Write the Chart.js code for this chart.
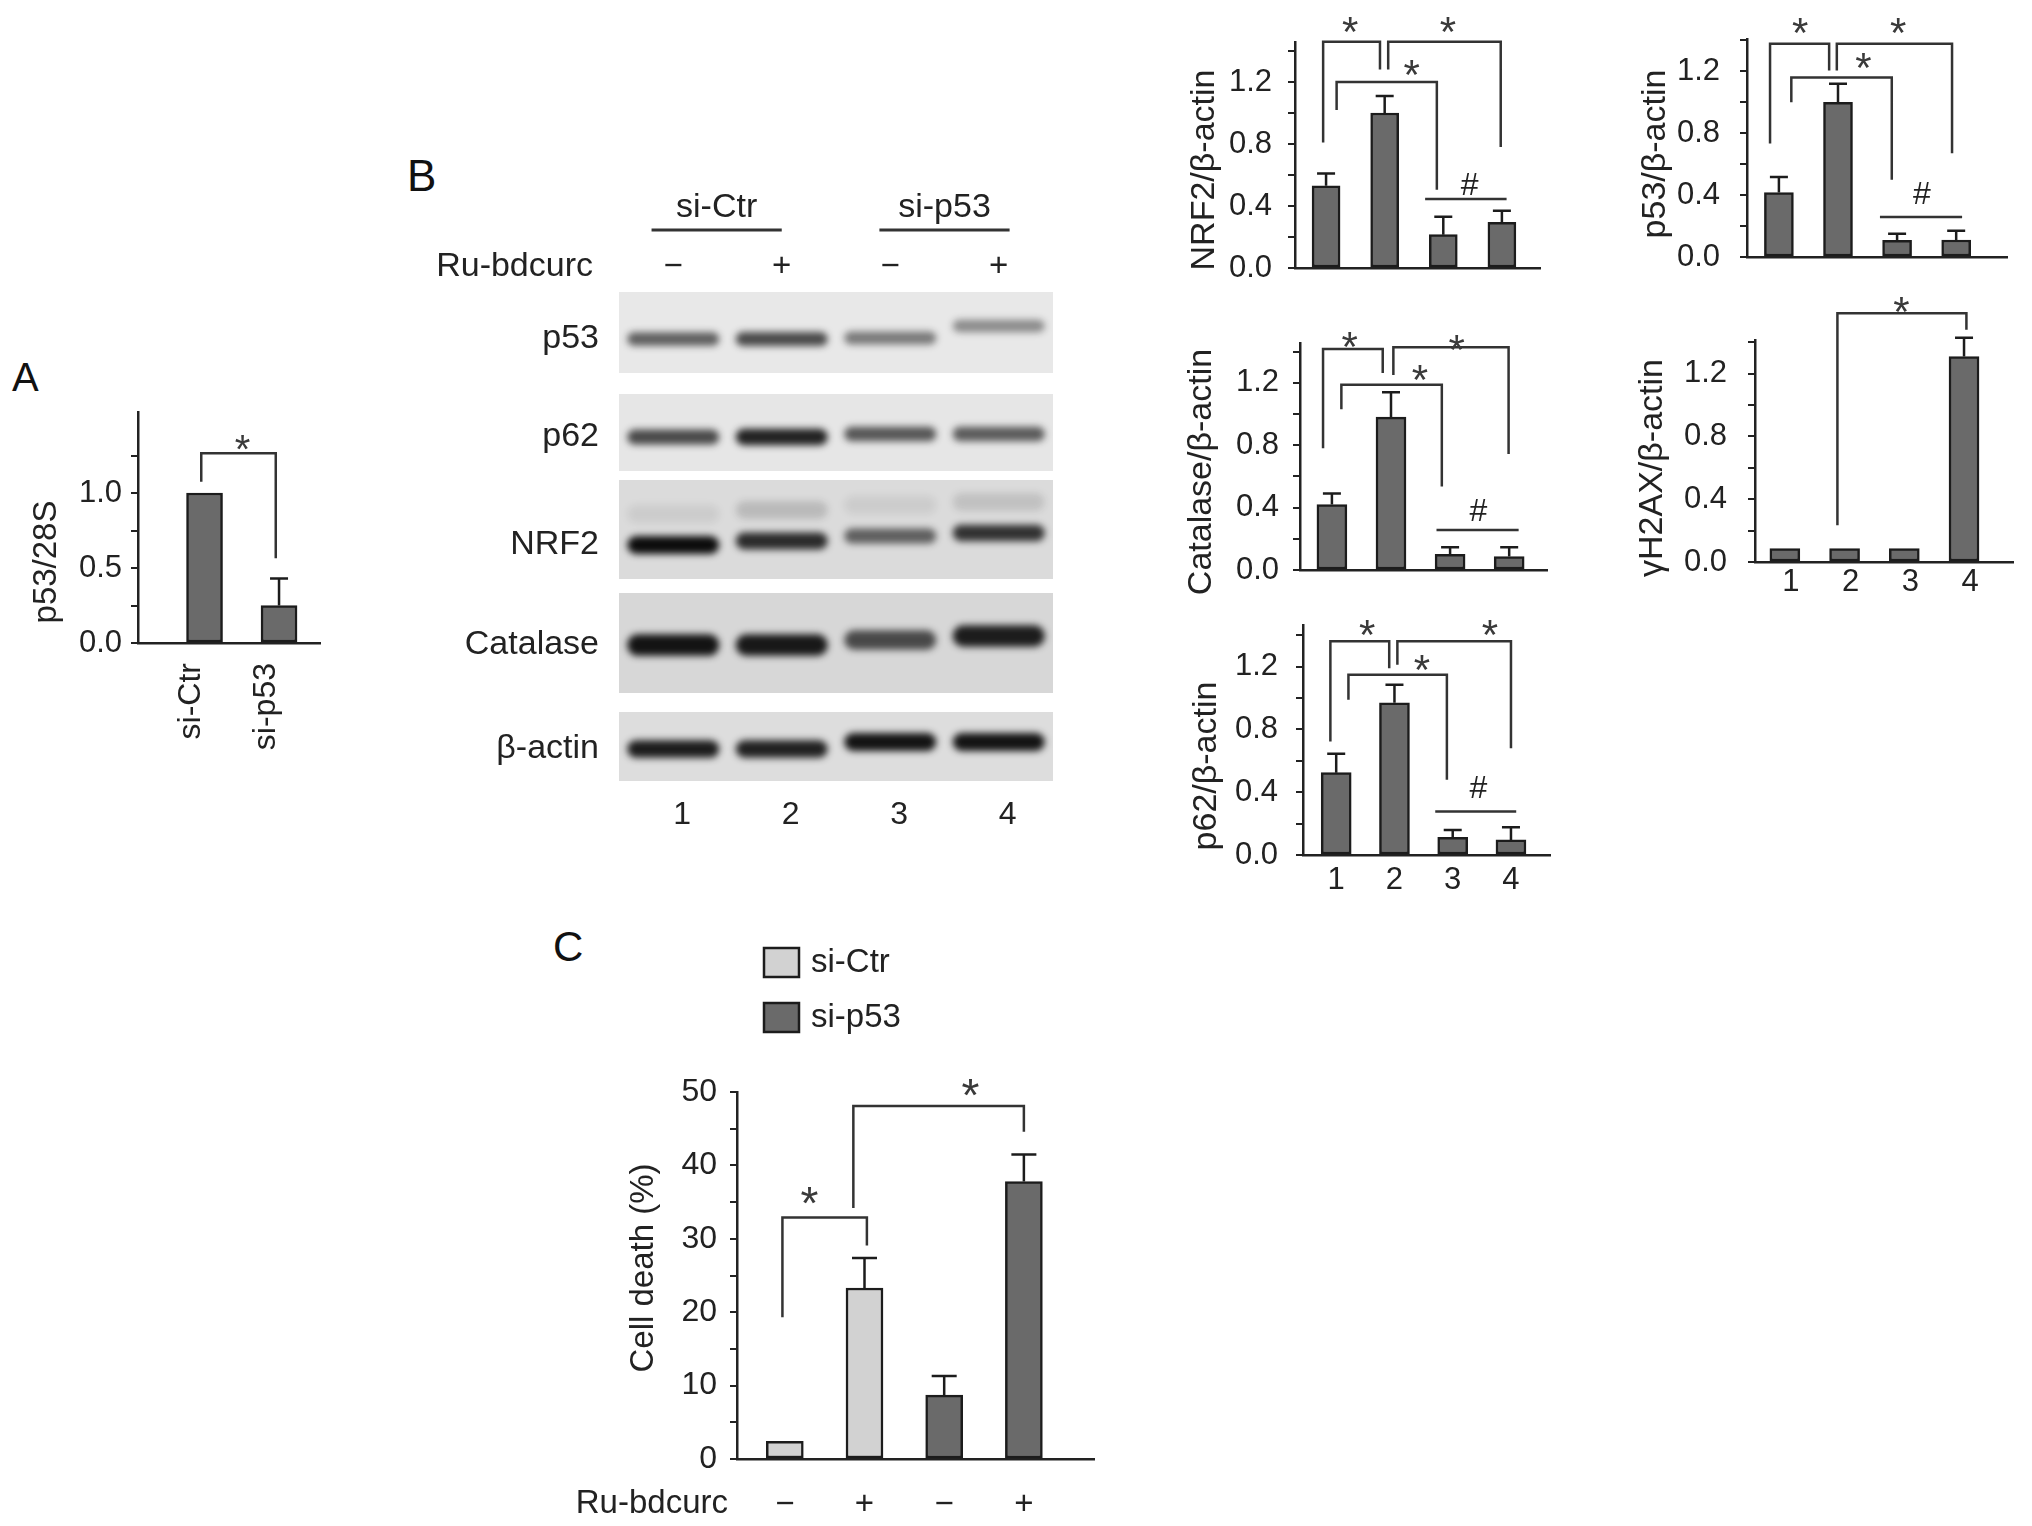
<!DOCTYPE html>
<html><head><meta charset="utf-8">
<script src="https://cdn.jsdelivr.net/npm/chart.js@4.4.1/dist/chart.umd.min.js"></script>
<style>
html,body{margin:0;padding:0;background:#fff;}
#fig{position:relative;width:2032px;height:1526px;overflow:hidden;background:#fff;font-family:"Liberation Sans",Arial,sans-serif;color:#111;}
#fig canvas{position:absolute;}
.letter{position:absolute;line-height:1;color:#111;font-family:"Liberation Sans",Arial,sans-serif;}
</style></head>
<body><div id="fig">
<div class="letter" style="left:12px;top:357px;font-size:40px;">A</div>
<div class="letter" style="left:407px;top:154px;font-size:44px;">B</div>
<div class="letter" style="left:553px;top:926px;font-size:42px;">C</div>
</div>
<script>
// ---------------- DATA ----------------
const laneNumbers = [1, 2, 3, 4];
const laneTickLabels = ['1', '2', '3', '4'];
const treatmentSigns = ['\u2212', '+', '\u2212', '+'];
const groupLabels = ['si-Ctr', 'si-p53'];

// Panel A
const aCategories = ['si-Ctr', 'si-p53'];
const aValues = [1.00, 0.25];
const aErrors = [0, 0.18];

// Panel B quantifications (lanes 1-4)
const nrf2Values = [0.53, 1.00, 0.215, 0.295];
const nrf2Errors = [0.08, 0.11, 0.115, 0.075];
const p53Values = [0.417, 1.00, 0.108, 0.11];
const p53Errors = [0.10, 0.12, 0.042, 0.06];
const catalaseValues = [0.42, 0.98, 0.10, 0.086];
const catalaseErrors = [0.07, 0.16, 0.046, 0.06];
const h2axValues = [0.085, 0.085, 0.085, 1.31];
const h2axErrors = [0, 0, 0, 0.12];
const p62Values = [0.525, 0.97, 0.113, 0.096];
const p62Errors = [0.12, 0.115, 0.047, 0.081];

// Panel C (cell death %)
const cellDeathCtr = [2.4, 23.3];
const cellDeathCtrErr = [0, 4.1];
const cellDeathP53 = [8.7, 37.8];
const cellDeathP53Err = [2.6, 3.7];

// Significance brackets: [xLeft, xRight, yLeftEnd, yRightEnd, yTop, starX, starY]
const aBrackets = [[0.956, 1.956, 1.075, 0.565, 1.265, 1.51, 1.356]];
const nrf2Brackets = [
  [0.95, 1.92, 0.81, 1.28, 1.46, 1.41, 1.59],
  [2.06, 3.98, 1.28, 0.78, 1.46, 3.08, 1.59],
  [1.18, 2.89, 1.02, 0.505, 1.20, 2.46, 1.31]
];
const p53Brackets = [
  [0.85, 1.85, 0.734, 1.206, 1.378, 1.36, 1.517],
  [1.98, 3.93, 1.206, 0.67, 1.378, 3.02, 1.517],
  [1.21, 2.91, 1.00, 0.50, 1.16, 2.43, 1.29]
];
const catalaseBrackets = [
  [0.85, 1.86, 0.78, 1.262, 1.416, 1.30, 1.497],
  [2.04, 3.99, 1.25, 0.744, 1.427, 3.11, 1.476],
  [1.16, 2.86, 1.03, 0.535, 1.187, 2.49, 1.283]
];
const p62Brackets = [
  [0.90, 1.91, 0.723, 1.19, 1.362, 1.53, 1.468],
  [2.05, 4.00, 1.213, 0.68, 1.362, 3.64, 1.468],
  [1.21, 2.90, 0.99, 0.479, 1.149, 2.47, 1.245]
];
const h2axBrackets = [[1.88, 4.04, 0.234, 1.48, 1.585, 2.95, 1.66]];
const cBrackets = [
  [0.97, 2.03, 19.3, 29.1, 32.9, 1.31, 36.4],
  [1.86, 4.00, 34.2, 44.6, 48.1, 3.33, 51.1]
];
// "#" lines: [xLeft, xRight, y, labelX, labelY]
const nrf2Hash = [2.69, 4.08, 0.445, 3.45, 0.548];
const p53Hash = [2.71, 4.10, 0.258, 3.42, 0.416];
const catalaseHash = [2.77, 4.16, 0.257, 3.48, 0.385];
const p62Hash = [2.70, 4.09, 0.277, 3.44, 0.436];

// Western blot (band intensities per lane)
const blotRowLabels = ['p53', 'p62', 'NRF2', 'Catalase', '\u03b2-actin'];
const p53Band = [0.62, 0.72, 0.50, 0.42];
const p62Band = [0.72, 0.90, 0.66, 0.64];
const nrf2Band = [1.00, 0.85, 0.60, 0.82];
const nrf2UpperBand = [0.07, 0.16, 0.07, 0.13];
const catalaseBand = [0.97, 0.94, 0.70, 0.92];
const actinBand = [0.92, 0.90, 0.97, 0.97];

// ---------------- LAYOUT / STYLE ----------------
const FONT = '"Liberation Sans", Arial, sans-serif';
Chart.defaults.font.family = FONT;
Chart.defaults.color = '#222';
const DARK = '#6a6a6a', LIGHT = '#d2d2d2', EDGE = '#1c1c1c', INK = '#222';
const fig = document.getElementById('fig');

const BLOT = {
  canvas: {l: 390, t: 140, w: 690, h: 710},
  pad: {left: 229, right: 27, top: 152, bottom: 69},
  yMax: 489,
  panels: [[0, 81], [102, 179], [188, 287], [301, 401], [420, 489]],
  bandY: [47, 145, 253, 353, 457],
  upperY: 222,
  bandDy: [[0, 0, -1, -13], [0, 0, -3, -3], [0, -4, -9, -12], [0, 0, -5, -9], [0, 0, -7, -7]],
  bandH: [16, 17, 18, 22, 18],
  bandW: 92,
  panelColor: ['#e8e8e8', '#e6e6e6', '#dbdbdb', '#d7d7d7', '#dddddd']
};

function makeCanvas(l, t, w, h) {
  const c = document.createElement('canvas');
  c.width = w; c.height = h;
  c.style.left = l + 'px'; c.style.top = t + 'px';
  c.style.width = w + 'px'; c.style.height = h + 'px';
  fig.appendChild(c);
  return c;
}

function glyph(ctx, ch, cx, cy, size, ratio) {
  ctx.font = size + 'px ' + FONT;
  ctx.textAlign = 'center';
  ctx.textBaseline = 'alphabetic';
  ctx.fillText(ch, cx, cy + ratio * size);
}

const errorBarsPlugin = {
  id: 'errorBars',
  afterDatasetsDraw(chart, args, opts) {
    const ctx = chart.ctx, y = chart.scales.y;
    ctx.save();
    ctx.strokeStyle = EDGE; ctx.lineWidth = 2.5;
    chart.data.datasets.forEach((ds, di) => {
      const meta = chart.getDatasetMeta(di);
      (ds.errors || []).forEach((e, i) => {
        if (!e) return;
        const el = meta.data[i];
        const yt = y.getPixelForValue(ds.data[i].y + e);
        const half = opts.capWidth / 2;
        ctx.beginPath();
        ctx.moveTo(el.x, el.y); ctx.lineTo(el.x, yt);
        ctx.moveTo(el.x - half, yt); ctx.lineTo(el.x + half, yt);
        ctx.stroke();
      });
    });
    ctx.restore();
  }
};

const sigPlugin = {
  id: 'sig',
  afterDraw(chart, args, opts) {
    const ctx = chart.ctx, x = chart.scales.x, y = chart.scales.y;
    ctx.save();
    ctx.strokeStyle = '#333'; ctx.lineWidth = 2.5; ctx.fillStyle = '#3a3a3a';
    (opts.brackets || []).forEach(b => {
      const [x1, x2, yl, yr, yt, sx, sy] = b;
      const p1 = x.getPixelForValue(x1), p2 = x.getPixelForValue(x2);
      ctx.beginPath();
      ctx.moveTo(p1, y.getPixelForValue(yl));
      ctx.lineTo(p1, y.getPixelForValue(yt));
      ctx.lineTo(p2, y.getPixelForValue(yt));
      ctx.lineTo(p2, y.getPixelForValue(yr));
      ctx.stroke();
      glyph(ctx, '*', x.getPixelForValue(sx), y.getPixelForValue(sy), opts.starSize, 0.58);
    });
    if (opts.hash) {
      const [x1, x2, yv, lx, ly] = opts.hash;
      ctx.beginPath();
      ctx.moveTo(x.getPixelForValue(x1), y.getPixelForValue(yv));
      ctx.lineTo(x.getPixelForValue(x2), y.getPixelForValue(yv));
      ctx.stroke();
      ctx.fillStyle = '#222';
      glyph(ctx, '#', x.getPixelForValue(lx), y.getPixelForValue(ly), 32, 0.36);
    }
    // rotated y-axis title
    if (opts.yTitle) {
      const t = opts.yTitle;
      ctx.save();
      ctx.translate(t.x, t.y);
      ctx.rotate(-Math.PI / 2);
      ctx.fillStyle = INK;
      ctx.font = t.size + 'px ' + FONT;
      ctx.textAlign = 'center'; ctx.textBaseline = 'middle';
      ctx.fillText(t.text, 0, 0);
      ctx.restore();
    }
    if (opts.extra) opts.extra(chart);
    ctx.restore();
  }
};

function laneDataset(xs, values, errors, color, thickness) {
  return {
    data: values.map((v, i) => ({x: xs[i], y: v})),
    errors: errors,
    backgroundColor: color, borderColor: EDGE, borderWidth: 2.5,
    borderSkipped: false, barThickness: thickness
  };
}

function barChart(cfg) {
  const {area, ML, MR, MT, MB} = cfg;
  const W = area.r - area.l + ML + MR, H = area.b - area.t + MT + MB;
  const cL = area.l - ML, cT = area.t - MT;
  const canvas = makeCanvas(cL, cT, W, H);
  const tSize = cfg.titleSize || 34;
  const tickTop = cfg.yTickTop === undefined ? cfg.yMax : cfg.yTickTop;
  return new Chart(canvas, {
    type: 'bar',
    data: {datasets: cfg.datasets},
    options: {
      responsive: false, maintainAspectRatio: false, animation: false, devicePixelRatio: 1,
      layout: {padding: {left: 0, top: MT, right: MR, bottom: 0}},
      datasets: {bar: {grouped: false}},
      plugins: {
        legend: {display: false}, tooltip: {enabled: false},
        errorBars: {capWidth: cfg.capWidth || 18},
        sig: {
          brackets: cfg.brackets || [], hash: cfg.hash || null, starSize: cfg.starSize || 42, extra: cfg.extra || null,
          yTitle: {text: cfg.title, size: tSize, x: cfg.titleX - cL, y: cfg.titleY - cT}
        }
      },
      scales: {
        x: {
          type: 'linear', min: cfg.xMin, max: cfg.xMax, offset: false,
          afterFit: s => { s.height = MB; },
          afterBuildTicks: s => { s.ticks = cfg.xTicks.map(v => ({value: v})); },
          grid: {display: false, drawTicks: false},
          border: {display: true, width: 2.5, color: INK},
          ticks: {
            display: !!cfg.xLabel, autoSkip: false, padding: cfg.xPad || 0,
            labelOffset: cfg.xLabelOffset || 0,
            minRotation: cfg.xRot || 0, maxRotation: cfg.xRot || 0,
            font: {family: FONT, size: cfg.xFontSize || 31}, color: INK,
            callback: v => (cfg.xLabel ? cfg.xLabel(v) : '')
          }
        },
        y: {
          type: 'linear', min: 0, max: cfg.yMax,
          afterFit: s => { s.width = ML; },
          afterBuildTicks: s => {
            const t = [];
            for (let k = 0; k * cfg.yStep <= tickTop + 1e-9; k++) t.push({value: +(k * cfg.yStep).toFixed(4)});
            s.ticks = t;
          },
          grid: {display: true, drawOnChartArea: false, drawTicks: true, tickLength: 7, tickWidth: 2, tickColor: INK, lineWidth: 2, color: INK},
          border: {display: true, width: 2.5, color: INK},
          ticks: {
            padding: cfg.yPad, autoSkip: false, color: INK,
            font: {family: FONT, size: cfg.yFontSize || 31},
            callback: v => {
              const r = v / cfg.yLabelStep;
              return Math.abs(r - Math.round(r)) < 1e-6 ? v.toFixed(cfg.yDec === undefined ? 1 : cfg.yDec) : '';
            }
          },
          title: {display: false}
        }
      }
    },
    plugins: [errorBarsPlugin, sigPlugin]
  });
}

// ---------------- PANEL A ----------------
barChart({
  area: {l: 138, r: 322, t: 412, b: 643}, ML: 130, MR: 20, MT: 30, MB: 115,
  yMax: 1.54, yTickTop: 1.3, yStep: 0.25, yLabelStep: 0.5, yPad: 9, titleX: 47, titleY: 562, titleSize: 33,
  xMin: 0.107, xMax: 2.56, xTicks: [1, 2], xRot: 90, xPad: 20, xFontSize: 32, xLabelOffset: -13,
  xLabel: v => aCategories[v - 1] || '',
  title: 'p53/28S',
  datasets: [laneDataset([1, 2], aValues, aErrors, DARK, 36)],
  brackets: aBrackets, starSize: 40
});

// ---------------- PANEL B charts ----------------
barChart({
  area: {l: 1295, r: 1540, t: 42, b: 268}, ML: 130, MR: 20, MT: 40, MB: 45,
  yMax: 1.458, yStep: 0.2, yLabelStep: 0.4, yPad: 16, titleX: 1205, titleY: 170,
  xMin: 0.47, xMax: 4.65, xTicks: laneNumbers,
  title: 'NRF2/\u03b2-actin',
  datasets: [laneDataset(laneNumbers, nrf2Values, nrf2Errors, DARK, 28)],
  brackets: nrf2Brackets, hash: nrf2Hash
});
barChart({
  area: {l: 1747, r: 2007, t: 39, b: 257}, ML: 130, MR: 20, MT: 38, MB: 45,
  yMax: 1.405, yStep: 0.2, yLabelStep: 0.4, yPad: 20, titleX: 1656, titleY: 154,
  xMin: 0.46, xMax: 4.86, xTicks: laneNumbers,
  title: 'p53/\u03b2-actin',
  datasets: [laneDataset(laneNumbers, p53Values, p53Errors, DARK, 29)],
  brackets: p53Brackets, hash: p53Hash
});
barChart({
  area: {l: 1300, r: 1547, t: 343, b: 570}, ML: 130, MR: 20, MT: 40, MB: 45,
  yMax: 1.455, yStep: 0.2, yLabelStep: 0.4, yPad: 14, titleX: 1202, titleY: 472,
  xMin: 0.46, xMax: 4.64, xTicks: laneNumbers,
  title: 'Catalase/\u03b2-actin',
  datasets: [laneDataset(laneNumbers, catalaseValues, catalaseErrors, DARK, 30)],
  brackets: catalaseBrackets, hash: catalaseHash
});
barChart({
  area: {l: 1755, r: 2013, t: 340, b: 562}, ML: 130, MR: 15, MT: 60, MB: 45,
  yMax: 1.415, yStep: 0.2, yLabelStep: 0.4, yPad: 21, titleX: 1653, titleY: 468,
  xMin: 0.5, xMax: 4.82, xTicks: laneNumbers, xPad: 2, xLabelOffset: 6,
  xLabel: v => laneTickLabels[v - 1] || '',
  title: '\u03b3H2AX/\u03b2-actin',
  datasets: [laneDataset(laneNumbers, h2axValues, h2axErrors, DARK, 30)],
  brackets: h2axBrackets
});
barChart({
  area: {l: 1303, r: 1550, t: 625, b: 855}, ML: 130, MR: 20, MT: 45, MB: 45,
  yMax: 1.466, yStep: 0.2, yLabelStep: 0.4, yPad: 18, titleX: 1207, titleY: 766,
  xMin: 0.43, xMax: 4.67, xTicks: laneNumbers, xPad: 7,
  xLabel: v => laneTickLabels[v - 1] || '',
  title: 'p62/\u03b2-actin',
  datasets: [laneDataset(laneNumbers, p62Values, p62Errors, DARK, 30)],
  brackets: p62Brackets, hash: p62Hash
});

// ---------------- PANEL C ----------------
barChart({
  area: {l: 737, r: 1094, t: 1092, b: 1459}, ML: 200, MR: 20, MT: 150, MB: 67,
  yMax: 50, yStep: 5, yLabelStep: 10, yDec: 0, yPad: 13, titleX: 644, titleY: 1268, titleSize: 33, yFontSize: 32,
  xMin: 0.4, xMax: 4.88, xTicks: laneNumbers, xPad: 26, xFontSize: 33,
  xLabel: v => treatmentSigns[v - 1] || '',
  title: 'Cell death (%)',
  capWidth: 25, starSize: 46,
  datasets: [
    Object.assign(laneDataset(laneNumbers.slice(0, 2), cellDeathCtr, cellDeathCtrErr, LIGHT, 37), {label: groupLabels[0]}),
    Object.assign(laneDataset(laneNumbers.slice(2, 4), cellDeathP53, cellDeathP53Err, DARK, 37), {label: groupLabels[1]})
  ],
  brackets: cBrackets,
  extra: chart => {
    const ctx = chart.ctx, ca = chart.chartArea;
    ctx.fillStyle = INK;
    ctx.font = '33px ' + FONT;
    ctx.textAlign = 'right'; ctx.textBaseline = 'middle';
    ctx.fillText('Ru-bdcurc', ca.left - 9, ca.bottom + 45);
    chart.data.datasets.forEach((ds, i) => {
      const bx = ca.left + 27, by = ca.top - 144 + i * 55;
      ctx.fillStyle = ds.backgroundColor;
      ctx.strokeStyle = EDGE; ctx.lineWidth = 2.5;
      ctx.beginPath();
      ctx.rect(bx, by, 35, 29);
      ctx.fill(); ctx.stroke();
      ctx.fillStyle = INK;
      ctx.textAlign = 'left';
      ctx.fillText(ds.label, bx + 47, by + 15);
    });
  }
});

// ---------------- PANEL B western blot ----------------
const blotBands = [p53Band, p62Band, nrf2Band, catalaseBand, actinBand];
const blotPlugin = {
  id: 'blot',
  afterDraw(chart) {
    const ctx = chart.ctx, ca = chart.chartArea, x = chart.scales.x, y = chart.scales.y;
    ctx.save();
    blotRowLabels.forEach((name, r) => {
      const [p0, p1] = BLOT.panels[r];
      const y0 = y.getPixelForValue(p0), y1 = y.getPixelForValue(p1);
      ctx.fillStyle = BLOT.panelColor[r];
      ctx.fillRect(ca.left, y0, ca.right - ca.left, y1 - y0);
    });
    ctx.filter = 'blur(3.5px)';
    nrf2UpperBand.forEach((inten, i) => {
      const cx = x.getPixelForValue(laneNumbers[i]);
      const cy = y.getPixelForValue(BLOT.upperY + BLOT.bandDy[2][i]);
      ctx.fillStyle = 'rgba(20,20,20,' + inten + ')';
      ctx.beginPath(); ctx.roundRect(cx - BLOT.bandW / 2, cy - 9, BLOT.bandW, 18, 9); ctx.fill();
    });
    blotBands.forEach((band, r) => {
      band.forEach((inten, i) => {
        const cx = x.getPixelForValue(laneNumbers[i]);
        const cy = y.getPixelForValue(BLOT.bandY[r] + BLOT.bandDy[r][i]);
        const h = BLOT.bandH[r] * (0.6 + 0.4 * inten), w = BLOT.bandW;
        ctx.fillStyle = 'rgba(12,12,12,' + inten + ')';
        ctx.beginPath(); ctx.roundRect(cx - w / 2, cy - h / 2, w, h, h / 2); ctx.fill();
      });
    });
    ctx.filter = 'none';
    ctx.fillStyle = INK;
    ctx.font = '34px ' + FONT;
    ctx.textAlign = 'right'; ctx.textBaseline = 'middle';
    blotRowLabels.forEach((name, r) => {
      ctx.fillText(name, ca.left - 20, y.getPixelForValue(BLOT.bandY[r]));
    });
    ctx.fillText('Ru-bdcurc', ca.left - 26, ca.top - 25);
    ctx.textAlign = 'center';
    laneNumbers.forEach((ln, i) => {
      ctx.font = '33px ' + FONT;
      ctx.fillText(treatmentSigns[i], x.getPixelForValue(ln), ca.top - 25);
      ctx.font = '32px ' + FONT;
      ctx.fillText(laneTickLabels[i], x.getPixelForValue(ln) + 9, ca.bottom + 34);
    });
    ctx.font = '34px ' + FONT;
    const groups = [[1.4, groupLabels[0]], [3.5, groupLabels[1]]];
    ctx.strokeStyle = '#333'; ctx.lineWidth = 3;
    groups.forEach(([c, label]) => {
      ctx.fillText(label, x.getPixelForValue(c), ca.top - 84);
      ctx.beginPath();
      ctx.moveTo(x.getPixelForValue(c - 0.6), ca.top - 62);
      ctx.lineTo(x.getPixelForValue(c + 0.6), ca.top - 62);
      ctx.stroke();
    });
    ctx.restore();
  }
};
new Chart(makeCanvas(BLOT.canvas.l, BLOT.canvas.t, BLOT.canvas.w, BLOT.canvas.h), {
  type: 'scatter',
  data: {datasets: []},
  options: {
    responsive: false, maintainAspectRatio: false, animation: false, devicePixelRatio: 1,
    layout: {padding: BLOT.pad},
    plugins: {legend: {display: false}, tooltip: {enabled: false}},
    scales: {
      x: {type: 'linear', display: false, min: 0.5, max: 4.5},
      y: {type: 'linear', display: false, min: 0, max: BLOT.yMax, reverse: true}
    }
  },
  plugins: [blotPlugin]
});
</script>
</body></html>
